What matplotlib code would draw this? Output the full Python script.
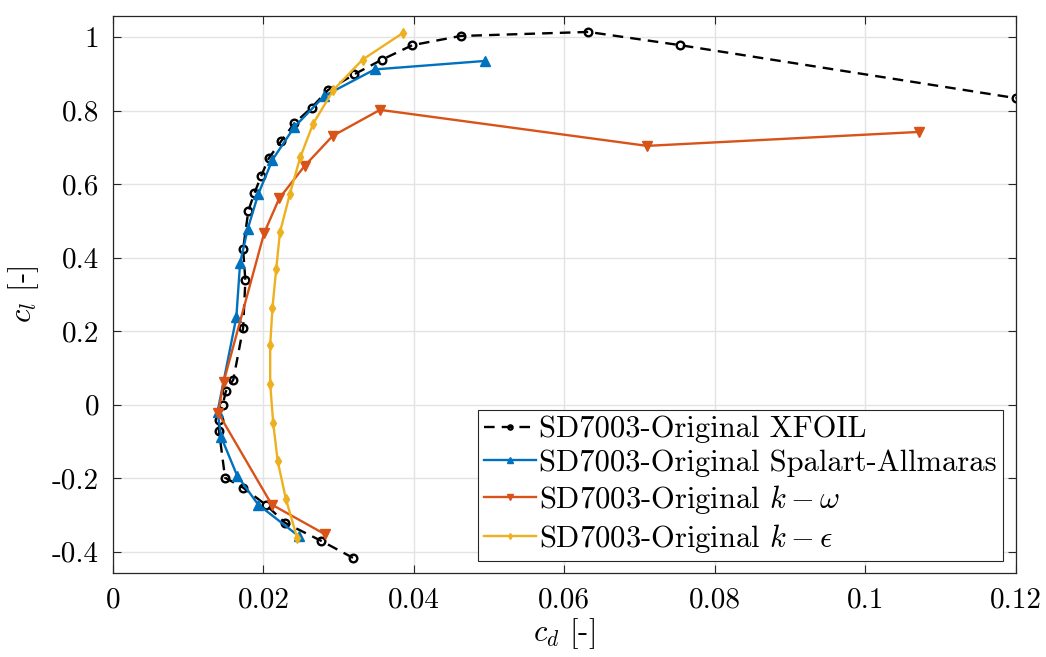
import numpy as np
import matplotlib
matplotlib.use("Agg")
import matplotlib.pyplot as plt

plt.rcParams['font.family'] = ['cmr10', 'DejaVu Serif']
plt.rcParams['mathtext.fontset'] = 'cm'
plt.rcParams['axes.unicode_minus'] = False

# drag polar data for the SD7003 airfoil
xfoil_cd = [0.0319, 0.0277, 0.0229, 0.0204, 0.0173, 0.0149, 0.0141, 0.0141, 0.0146,
            0.0150, 0.0160, 0.0173, 0.0176, 0.0173, 0.0180, 0.0188, 0.0197, 0.0207,
            0.0224, 0.0241, 0.0264, 0.0286, 0.0321, 0.0357, 0.0398, 0.0462, 0.0632,
            0.0754, 0.1200]
xfoil_cl = [-0.417, -0.371, -0.322, -0.274, -0.226, -0.199, -0.072, -0.041, 0.000,
            0.036, 0.068, 0.208, 0.338, 0.423, 0.528, 0.575, 0.622, 0.670,
            0.718, 0.765, 0.808, 0.856, 0.899, 0.938, 0.978, 1.003, 1.014,
            0.978, 0.834]

sa_cd = [0.0247, 0.0193, 0.0165, 0.0144, 0.0139, 0.0164, 0.0169, 0.0179, 0.0193,
         0.0212, 0.0241, 0.0281, 0.0348, 0.0494]
sa_cl = [-0.358, -0.272, -0.193, -0.089, -0.020, 0.238, 0.385, 0.477, 0.572,
         0.666, 0.755, 0.840, 0.912, 0.935]

kw_cd = [0.0282, 0.0211, 0.0140, 0.0147, 0.0201, 0.0221, 0.0255, 0.0292, 0.0355,
         0.0710, 0.1072]
kw_cl = [-0.353, -0.272, -0.023, 0.061, 0.467, 0.561, 0.650, 0.731, 0.802,
         0.704, 0.742]

ke_cd = [0.0245, 0.0230, 0.0219, 0.0213, 0.0209, 0.0209, 0.0212, 0.0217, 0.0222,
         0.0235, 0.0249, 0.0266, 0.0293, 0.0332, 0.0386]
ke_cl = [-0.364, -0.258, -0.154, -0.050, 0.057, 0.161, 0.263, 0.369, 0.469,
         0.572, 0.673, 0.764, 0.856, 0.939, 1.012]

xticks = [0, 0.02, 0.04, 0.06, 0.08, 0.1, 0.12]
xticklabels = ['0', '0.02', '0.04', '0.06', '0.08', '0.1', '0.12']
yticks = [-0.4, -0.2, 0, 0.2, 0.4, 0.6, 0.8, 1]
yticklabels = ['-0.4', '-0.2', '0', '0.2', '0.4', '0.6', '0.8', '1']

fig = plt.figure(figsize=(10.46, 6.57), dpi=100)
ax = fig.add_axes([0.108, 0.128, 0.863, 0.848])

ax.plot(xfoil_cd, xfoil_cl, '--o', color='k', lw=1.7, ms=5.5, mfc='none', mew=1.7,
        dashes=(4.5, 3), label='SD7003-Original XFOIL')
ax.plot(sa_cd, sa_cl, '-^', color='#0072BD', lw=1.7, ms=7,
        label='SD7003-Original Spalart-Allmaras')
ax.plot(kw_cd, kw_cl, '-v', color='#D95319', lw=1.7, ms=7,
        label=r'SD7003-Original $k-\omega$')
ax.plot(ke_cd, ke_cl, '-d', color='#EDB120', lw=1.7, ms=5.5,
        label=r'SD7003-Original $k-\epsilon$')

ax.set_xlim(0, 0.12)
ax.set_ylim(-0.458, 1.058)
ax.set_xticks(xticks, xticklabels)
ax.set_yticks(yticks, yticklabels)
ax.grid(True, color='#e3e3e3', lw=1)
ax.set_axisbelow(True)
ax.tick_params(direction='in', length=6, width=0.8, color='#262626',
               top=True, right=True, labelsize=21, pad=10)
for s in ax.spines.values():
    s.set_color('#262626')
    s.set_linewidth(0.9)
ax.set_xlabel(r'$c_d$ [-]', fontsize=22, labelpad=2)
ax.set_ylabel(r'$c_l$ [-]', fontsize=22, labelpad=8)

leg = ax.legend(loc='lower right', bbox_to_anchor=(0.986, 0.021), fontsize=22,
                handlelength=1.7, handletextpad=0.1, labelspacing=0.2,
                borderaxespad=0, borderpad=0.2, fancybox=False, framealpha=1,
                markerscale=0.55)
leg.get_frame().set_edgecolor('#262626')
leg.get_frame().set_linewidth(0.8)

fig.savefig('out.png', dpi=100)
